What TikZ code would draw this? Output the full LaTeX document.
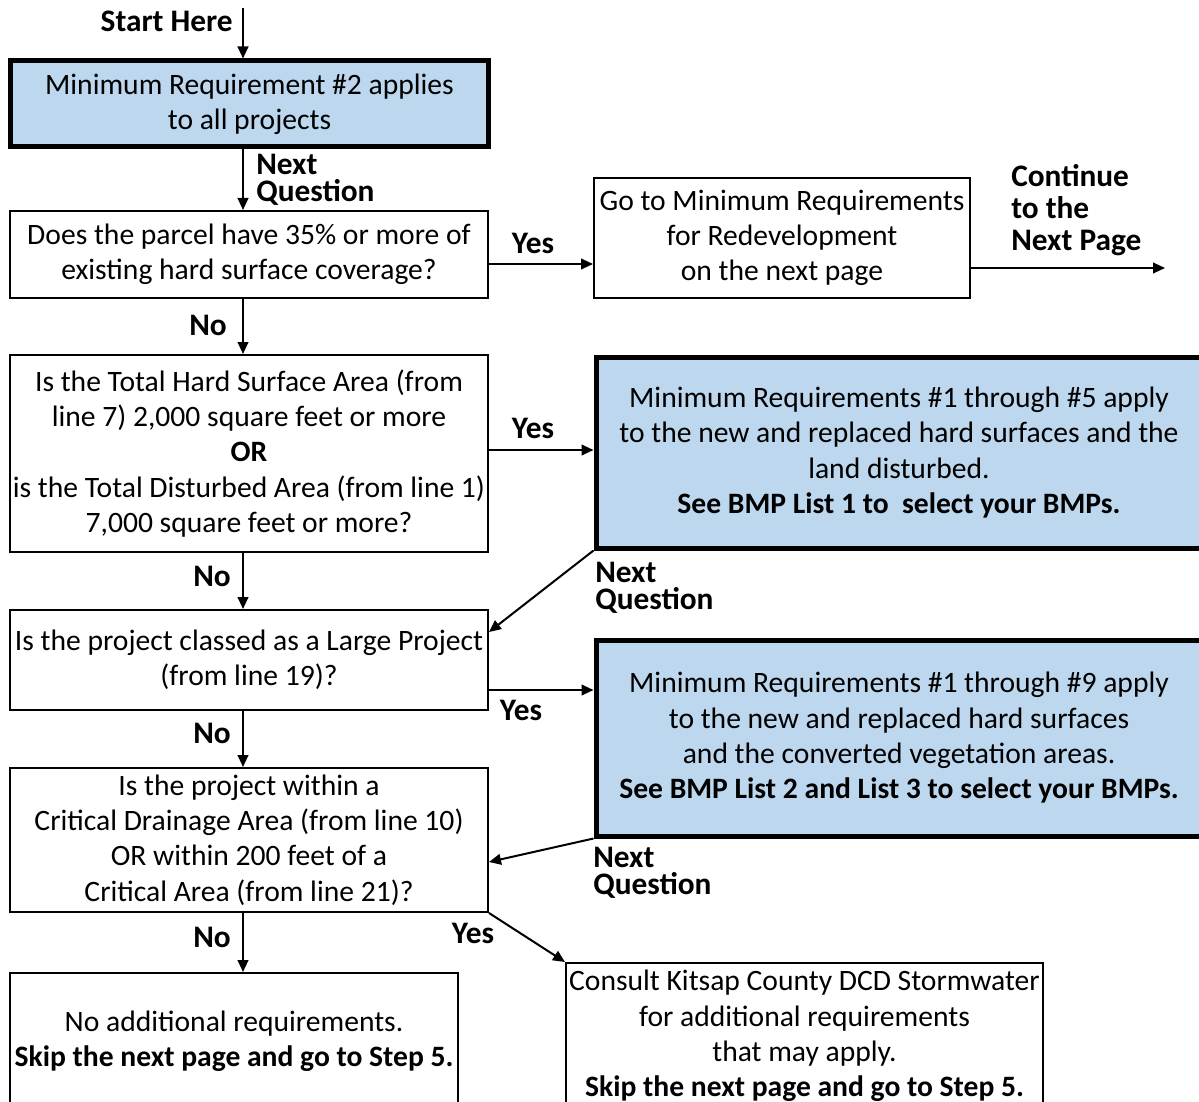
\documentclass[tikz,border=0pt]{standalone}
\usepackage{fontspec}
\setmainfont{Carlito}
\usetikzlibrary{arrows.meta}
\definecolor{boxblue}{HTML}{BDD7EE}
\begin{document}
\begin{tikzpicture}[x=0.75pt,y=-0.75pt,
  boxtext/.style={font=\fontsize{22.2}{26.5}\selectfont},
  thinbox/.style={draw=black,line width=1.5pt,fill=white,rectangle,inner sep=0pt,align=center,boxtext},
  thickbox/.style={draw=black,line width=3.75pt,fill=boxblue,rectangle,inner sep=0pt,align=center,boxtext},
  arr/.style={line width=1.5pt,-{Triangle[length=9pt,width=8pt]}},
  lab/.style={font=\bfseries\fontsize{23.5}{20}\selectfont,inner sep=0pt,align=left},
  lab3/.style={font=\bfseries\fontsize{23.5}{24}\selectfont,inner sep=0pt,align=left}
]
\useasboundingbox (0,0) rectangle (1199,1102);
\clip (0,0) rectangle (1199,1102);

% boxes
\node[thickbox,minimum width=478*0.75pt,minimum height=86*0.75pt] (b1) at (249.5,104)
  {Minimum Requirement \#2 applies\\to all projects};
\node[thinbox,minimum width=478*0.75pt,minimum height=87*0.75pt] (b2) at (249,254.5)
  {Does the parcel have 35\% or more of\\existing hard surface coverage?};
\node[thinbox,minimum width=376*0.75pt,minimum height=120*0.75pt] (b3) at (782,238)
  {Go to Minimum Requirements\\for Redevelopment\\on the next page};
\node[thinbox,minimum width=478*0.75pt,minimum height=197*0.75pt] (b4) at (249,453.5)
  {Is the Total Hard Surface Area (from\\line 7) 2,000 square feet or more\\\textbf{OR}\\is the Total Disturbed Area (from line 1)\\7,000 square feet or more?};
\node[thickbox,minimum width=606*0.75pt,minimum height=191*0.75pt] (b5) at (899,452.5)
  {Minimum Requirements \#1 through \#5 apply\\to the new and replaced hard surfaces and the\\land disturbed.\\\textbf{See BMP List 1 to\ \ select your BMPs.}};
\node[thinbox,minimum width=478*0.75pt,minimum height=100*0.75pt] (b6) at (249,660)
  {Is the project classed as a Large Project\\(from line 19)?};
\node[thickbox,minimum width=606*0.75pt,minimum height=196*0.75pt] (b7) at (899,738)
  {Minimum Requirements \#1 through \#9 apply\\to the new and replaced hard surfaces\\and the converted vegetation areas.\\\textbf{See BMP List 2 and List 3 to select your BMPs.}};
\node[thinbox,minimum width=478*0.75pt,minimum height=144*0.75pt] (b8) at (249,840)
  {Is the project within a\\Critical Drainage Area (from line 10)\\OR within 200 feet of a\\Critical Area (from line 21)?};
\node[thinbox,minimum width=448*0.75pt,minimum height=137*0.75pt] (b9) at (234,1041.5)
  {No additional requirements.\\\textbf{Skip the next page and go to Step 5.}};
\node[thinbox,minimum width=477*0.75pt,minimum height=146*0.75pt] (b10) at (804.5,1036)
  {Consult Kitsap County DCD Stormwater\\for additional requirements\\that may apply.\\\textbf{Skip the next page and go to Step 5.}};

% helper coordinates
\coordinate (s) at (243,8);
\coordinate (cont) at (1165,268);

% connectors
\draw[arr] (s) -- (s |- b1.north);
\draw[arr] (b1.south -| s) -- (b2.north -| s);
\draw[arr] (b2.east |- 0,264) -- (b3.west |- 0,264);
\draw[arr] (b3.east |- cont) -- (cont);
\draw[arr] (b2.south -| s) -- (b4.north -| s);
\draw[arr] (b4.east |- 0,450) -- (b5.west |- 0,450);
\draw[arr] (b4.south -| s) -- (b6.north -| s);
\draw[arr] (b5.south west) -- (b6.east |- 0,632);
\draw[arr] (b6.east |- 0,690) -- (b7.west |- 0,690);
\draw[arr] (b6.south -| s) -- (b8.north -| s);
\draw[arr] (b7.south west) -- (b8.east |- 0,862);
\draw[arr] (b8.south -| s) -- (b9.north -| s);
\draw[arr] (b8.south east) -- (b10.north west);

% labels
\node[lab,anchor=east] (lstart) at (233,21) {Start Here};
\node[lab,anchor=north west] (lnq1) at (256,154) {Next\\Question};
\node[lab] (lyes1) at (533,243) {Yes};
\node[lab3,anchor=north west] (lcont) at (1011,164) {Continue\\to the\\Next Page};
\node[lab] (lno1) at (208,325) {No};
\node[lab] (lyes2) at (533,428) {Yes};
\node[lab] (lno2) at (212,576) {No};
\node[lab,anchor=north west] (lnq2) at (595,562) {Next\\Question};
\node[lab] (lyes3) at (521,710) {Yes};
\node[lab] (lno3) at (212,733) {No};
\node[lab,anchor=north west] (lnq3) at (593,847) {Next\\Question};
\node[lab] (lno4) at (212,937) {No};
\node[lab] (lyes4) at (473,933) {Yes};
\end{tikzpicture}
\end{document}
